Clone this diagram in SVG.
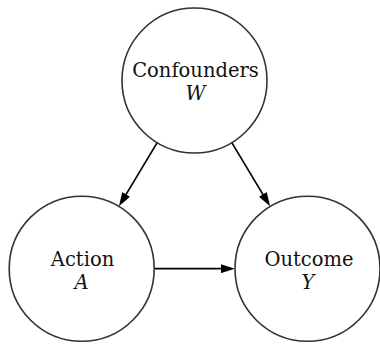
<svg xmlns="http://www.w3.org/2000/svg" width="380" height="347" viewBox="0 0 380 347">
  <style>
    .node circle { fill: #ffffff; stroke: #333333; stroke-width: 1.6; }
    .label { font-family: 'DejaVu Serif', serif; font-size: 19.5px; fill: #111111; text-anchor: middle; }
    .var { font-style: italic; }
    .edge { stroke: #000000; stroke-width: 1.7; fill: none; marker-end: url(#arrow); }
  </style>
  <defs>
    <!-- filled triangular arrowhead; the line stops 4px short of the tip -->
    <marker id="arrow" markerUnits="userSpaceOnUse" markerWidth="14" markerHeight="9" refX="10" refY="4.5" orient="auto">
      <path d="M0,0 L14,4.5 L0,9 Z" fill="#000000"/>
    </marker>
  </defs>

  <rect width="380" height="347" fill="#ffffff"/>

  <g id="connectors">
    <!-- W -> A -->
    <line class="edge" x1="157.2" y1="142.6" x2="121.0" y2="202.9"/>
    <!-- W -> Y -->
    <line class="edge" x1="231.8" y1="142.6" x2="268.0" y2="202.9"/>
    <!-- A -> Y -->
    <line class="edge" x1="154.2" y1="268.7" x2="230.8" y2="268.7"/>
  </g>

  <g id="node-confounders" class="node">
    <circle cx="194.5" cy="80.5" r="72.5"/>
    <text class="label" x="195.5" y="76.5">Confounders</text>
    <text class="label var" x="195.5" y="100.3">W</text>
  </g>

  <g id="node-action" class="node">
    <circle cx="81.7" cy="268.7" r="72.5"/>
    <text class="label" x="82.5" y="265.5">Action</text>
    <text class="label var" x="81.5" y="289">A</text>
  </g>

  <g id="node-outcome" class="node">
    <circle cx="307.5" cy="268.7" r="72.5"/>
    <text class="label" x="309" y="265.5">Outcome</text>
    <text class="label var" x="308" y="289">Y</text>
  </g>
</svg>
